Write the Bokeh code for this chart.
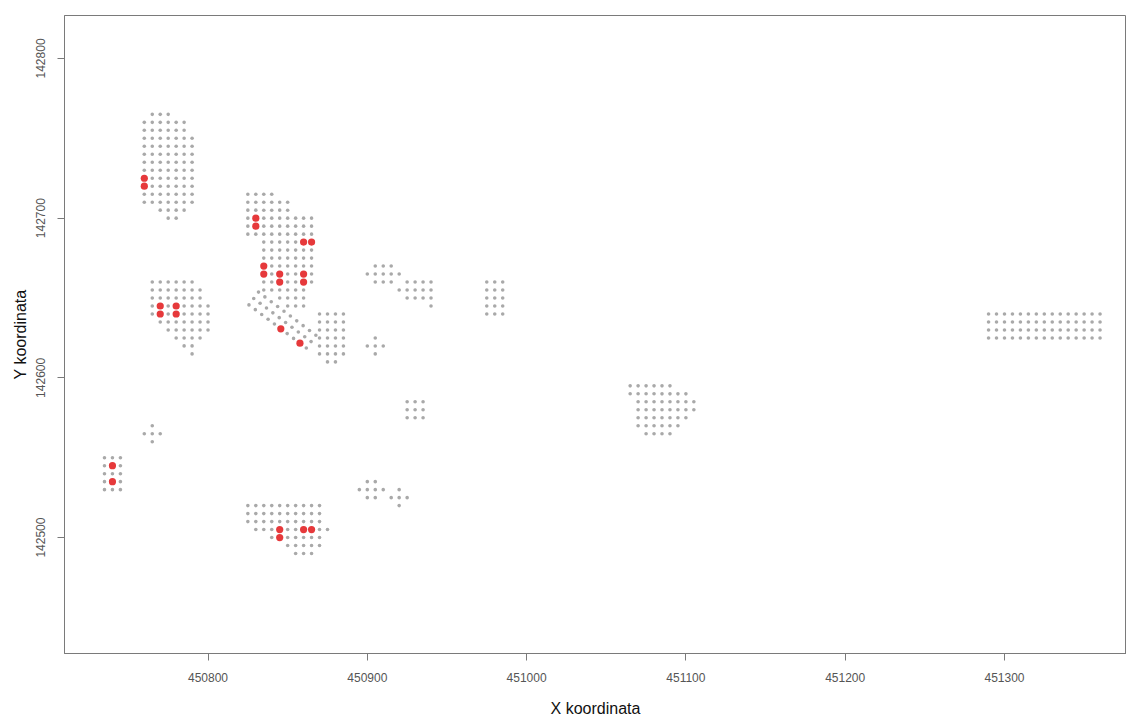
from bokeh.plotting import figure
from bokeh.models import FixedTicker, Range1d, BasicTickFormatter
from bokeh.embed import file_html
from bokeh.resources import INLINE

# ---- data -----------------------------------------------------------------
# Regular 5 m survey grid: each row = (Y, first X, last X) of a run of points
GRID_STEP = 5
grid_rows = [
    # cluster NW (tall block)
    (142765, 450765, 450775), (142760, 450760, 450785), (142755, 450760, 450785),
    (142750, 450760, 450790), (142745, 450760, 450790), (142740, 450760, 450790),
    (142735, 450760, 450790), (142730, 450760, 450790), (142725, 450760, 450790),
    (142720, 450760, 450790), (142715, 450760, 450790), (142710, 450760, 450790),
    (142705, 450770, 450785), (142700, 450775, 450780),
    # cluster W (middle left)
    (142660, 450765, 450790), (142655, 450765, 450795), (142650, 450765, 450795),
    (142645, 450765, 450800), (142640, 450765, 450800), (142635, 450770, 450800),
    (142630, 450775, 450800), (142625, 450780, 450795), (142620, 450785, 450790),
    (142615, 450790, 450790),
    # central block
    (142715, 450825, 450840), (142710, 450825, 450850), (142705, 450825, 450850),
    (142700, 450825, 450865), (142695, 450825, 450865), (142690, 450825, 450865),
    (142685, 450835, 450865), (142680, 450835, 450865), (142675, 450835, 450865),
    (142670, 450835, 450865), (142665, 450835, 450865), (142660, 450835, 450865),
    (142655, 450835, 450860), (142650, 450845, 450860), (142645, 450850, 450860),
    # block south of the centre
    (142640, 450870, 450885), (142635, 450870, 450885), (142630, 450870, 450885),
    (142625, 450870, 450885), (142620, 450870, 450885), (142615, 450870, 450885),
    (142610, 450875, 450880),
    # small groups around X 450900-450940
    (142670, 450905, 450915), (142665, 450900, 450920), (142660, 450905, 450915),
    (142660, 450925, 450940), (142655, 450920, 450940), (142650, 450925, 450940),
    (142645, 450940, 450940),
    (142625, 450905, 450905), (142620, 450900, 450910), (142615, 450905, 450905),
    (142660, 450975, 450985), (142655, 450975, 450985), (142650, 450975, 450985),
    (142645, 450975, 450985), (142640, 450975, 450985),
    (142585, 450925, 450935), (142580, 450925, 450935), (142575, 450925, 450935),
    (142535, 450900, 450905), (142530, 450895, 450910), (142530, 450920, 450920),
    (142525, 450900, 450905), (142525, 450915, 450925), (142520, 450920, 450920),
    # small groups far west
    (142570, 450765, 450765), (142565, 450760, 450770), (142560, 450765, 450765),
    (142550, 450735, 450745), (142545, 450735, 450745), (142540, 450735, 450745),
    (142535, 450735, 450745), (142530, 450735, 450745),
    # southern block
    (142520, 450825, 450870), (142515, 450825, 450870), (142510, 450825, 450870),
    (142505, 450830, 450875), (142500, 450840, 450870), (142495, 450850, 450870),
    (142490, 450855, 450865),
    # eastern block
    (142595, 451065, 451090), (142590, 451065, 451100), (142585, 451070, 451105),
    (142580, 451070, 451105), (142575, 451070, 451100), (142570, 451070, 451095),
    (142565, 451075, 451090),
    # far east strip
    (142640, 451290, 451360), (142635, 451290, 451360), (142630, 451290, 451360),
    (142625, 451290, 451360),
]

# rotated (diagonal) group of points
diag_x = [450831.7, 450835.7, 450839.7, 450843.7, 450847.7, 450851.7, 450855.7, 450859.7, 450863.7, 450867.7,
          450828.7, 450832.7, 450836.7, 450840.7, 450844.7, 450848.7, 450852.7, 450856.7, 450860.7, 450864.7,
          450825.7, 450829.7, 450833.7, 450837.7, 450841.7, 450845.7, 450849.7, 450853.7, 450857.7, 450861.7]
diag_y = [142653.7, 142650.7, 142647.7, 142644.7, 142641.7, 142638.7, 142635.7, 142632.7, 142629.7, 142626.7,
          142649.7, 142646.7, 142643.7, 142640.7, 142637.7, 142634.7, 142631.7, 142628.7, 142625.7, 142622.7,
          142645.7, 142642.7, 142639.7, 142636.7, 142633.7, 142630.7, 142627.7, 142624.7, 142621.7, 142618.7]

# highlighted (red) points
red_x = [450760, 450760, 450770, 450780, 450770, 450780, 450830, 450830, 450860, 450865,
         450835, 450835, 450845, 450860, 450845, 450860, 450845.7, 450857.7,
         450740, 450740, 450845, 450860, 450865, 450845]
red_y = [142725, 142720, 142645, 142645, 142640, 142640, 142700, 142695, 142685, 142685,
         142670, 142665, 142665, 142665, 142660, 142660, 142630.7, 142621.7,
         142545, 142535, 142505, 142505, 142505, 142500]

x_ticks = [450800, 450900, 451000, 451100, 451200, 451300]
y_ticks = [142500, 142600, 142700, 142800]
x_title = "X koordinata"
y_title = "Y koordinata"

# ---- expand grid rows ------------------------------------------------------
grey_x, grey_y = [], []
for yy, x0, x1 in grid_rows:
    xx = x0
    while xx <= x1:
        grey_x.append(xx)
        grey_y.append(yy)
        xx += GRID_STEP
grey_x += diag_x
grey_y += diag_y

# ---- figure ----------------------------------------------------------------
p = figure(width=1126, height=720,
           x_range=Range1d(450709.9, 451376.6), y_range=Range1d(142427.4, 142826.9),
           output_backend="svg", toolbar_location=None,
           min_border_left=64, min_border_right=0, min_border_top=15, min_border_bottom=67)
p.background_fill_color = "white"
p.border_fill_color = "white"
p.outline_line_color = "#7a7a7a"
p.outline_line_width = 1
p.xgrid.visible = False
p.ygrid.visible = False

p.scatter(grey_x, grey_y, marker="circle", size=3.6, fill_color="#a9a9a9", line_color=None)
p.scatter(red_x, red_y, marker="circle", size=7.2, fill_color="#e6393b", line_color=None)

for ax in (p.xaxis[0], p.yaxis[0]):
    ax.axis_line_color = "#7a7a7a"
    ax.major_tick_line_color = "#7a7a7a"
    ax.major_tick_out = 7
    ax.major_tick_in = 0
    ax.minor_tick_line_color = None
    ax.major_label_text_font = "Liberation Sans"
    ax.major_label_text_font_size = "12px"
    ax.major_label_text_color = "#555555"
    ax.axis_label_text_font = "Liberation Sans"
    ax.axis_label_text_font_size = "16px"
    ax.axis_label_text_font_style = "normal"
    ax.axis_label_text_color = "#111111"
    ax.formatter = BasicTickFormatter(use_scientific=False)

p.xaxis.ticker = FixedTicker(ticks=x_ticks)
p.yaxis.ticker = FixedTicker(ticks=y_ticks)
p.xaxis.axis_label = x_title
p.yaxis.axis_label = y_title
p.xaxis.major_label_standoff = 12
p.xaxis.axis_label_standoff = 15
p.yaxis.major_label_orientation = "vertical"
p.yaxis.major_label_standoff = 12
p.yaxis.axis_label_standoff = 5

open("out.html", "w").write(file_html(p, INLINE))
